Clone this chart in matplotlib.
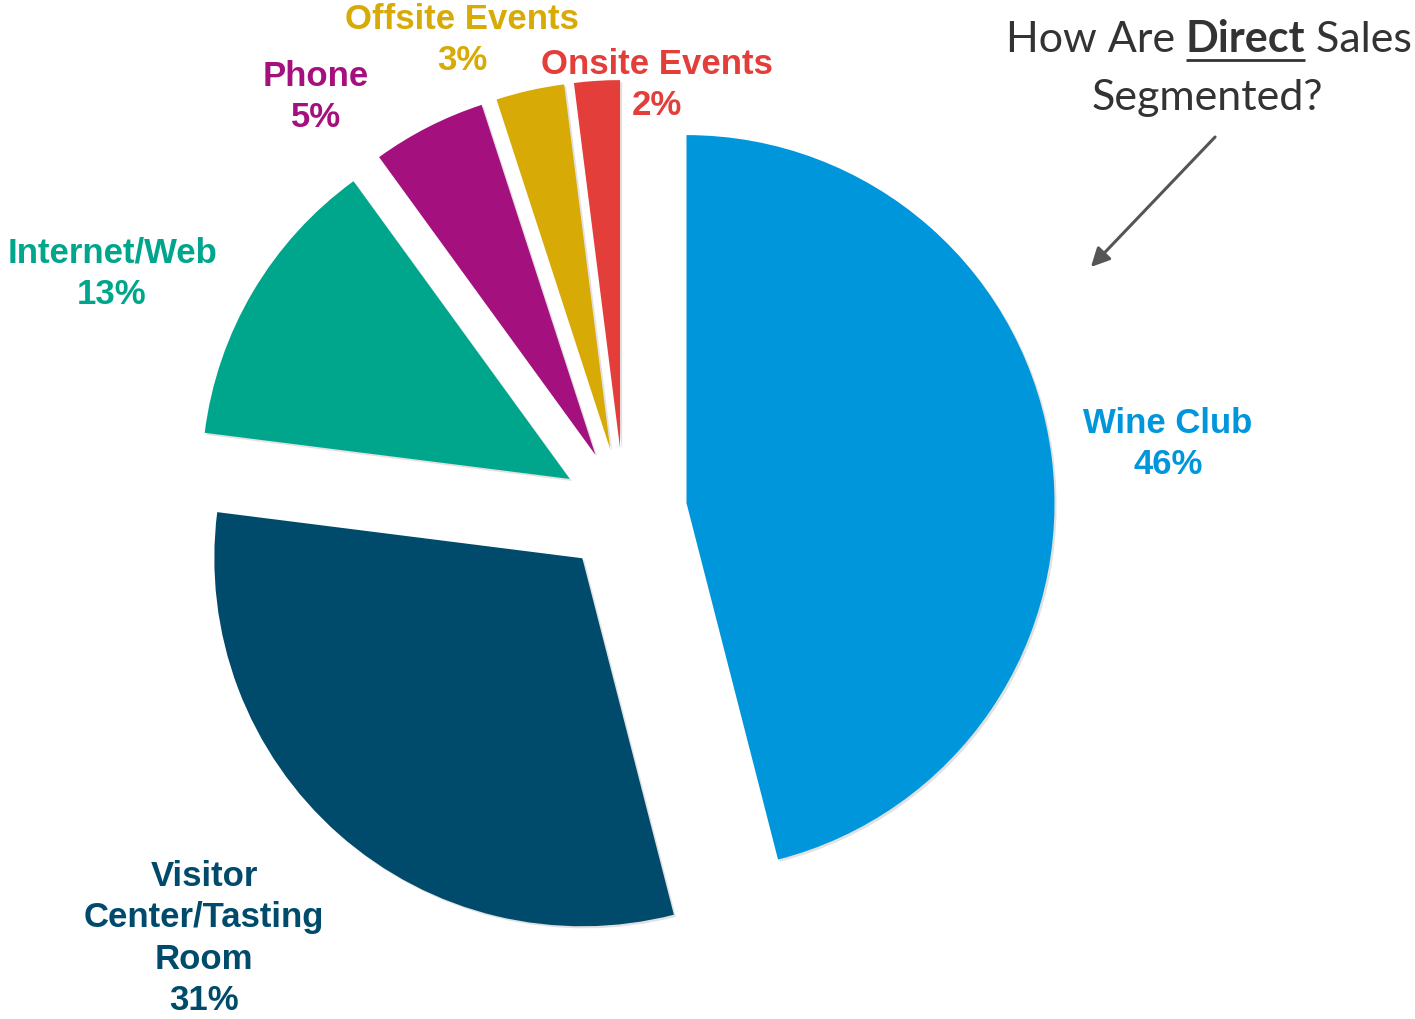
import matplotlib
matplotlib.use("Agg")
import matplotlib.pyplot as plt
import matplotlib.patheffects as pe

segments = ["Wine Club", "Visitor\nCenter/Tasting\nRoom", "Internet/Web",
            "Phone", "Offsite Events", "Onsite Events"]
shares = [46, 31, 13, 5, 3, 2]
colors = ["#0096db", "#004b6b", "#00a68c", "#a5107f", "#d7aa06", "#e33e3a"]

# label anchors (x center, baseline of last line) in pixel space, y from top
label_pos = [(1168, 474), (204, 1010), (112, 304), (316, 127), (462, 70), (657, 115)]

W, H = 1415, 1019
fig = plt.figure(figsize=(W / 100, H / 100), dpi=100)
ax = fig.add_axes([0, 0, 1, 1])

# explode is an absolute offset in data units here (pixels)
wedges, _ = ax.pie(shares, colors=colors, startangle=90, counterclock=False,
                   explode=[63] * len(shares), center=(624, H - 511), radius=368,
                   wedgeprops=dict(linewidth=0))
for w in wedges:
    w.set_path_effects([pe.SimplePatchShadow(offset=(1.5, -1.5), shadow_rgbFace="#888888", alpha=0.25),
                        pe.Normal()])

ax.set_xlim(0, W)
ax.set_ylim(0, H)
ax.set_aspect("equal")
ax.axis("off")

for name, val, col, (x, y) in zip(segments, shares, colors, label_pos):
    ax.text(x, H - y, f"{name}\n{val}%", color=col, ha="center", va="baseline",
            fontsize=25, fontweight="bold", family="Liberation Sans", linespacing=1.32)

# two-line heading with bold, underlined "Direct"
tfont = dict(family="Lato", fontsize=31, color="#333333")
parts = [("How Are ", "normal"), ("Direct", "bold"), (" Sales", "normal")]
fig.canvas.draw()
r = fig.canvas.get_renderer()
pieces = []
for s, wt in parts:
    t = ax.text(0, H - 52, s, fontweight=wt, va="baseline", ha="left", **tfont)
    pieces.append(t)
widths = [t.get_window_extent(r).width for t in pieces]
x0 = 1209 - sum(widths) / 2
for t, wd in zip(pieces, widths):
    t.set_x(x0)
    if t.get_text() == "Direct":
        ax.plot([x0, x0 + wd], [H - 60, H - 60], color="#333333", lw=2, solid_capstyle="butt")
    x0 += wd
ax.text(1207, H - 110, "Segmented?", ha="center", va="baseline", **tfont)

ax.annotate("", xy=(1089, H - 269), xytext=(1217, H - 135),
            arrowprops=dict(arrowstyle="-|>", color="#555555", lw=2.2, mutation_scale=28))

fig.savefig("out.png", dpi=100)
